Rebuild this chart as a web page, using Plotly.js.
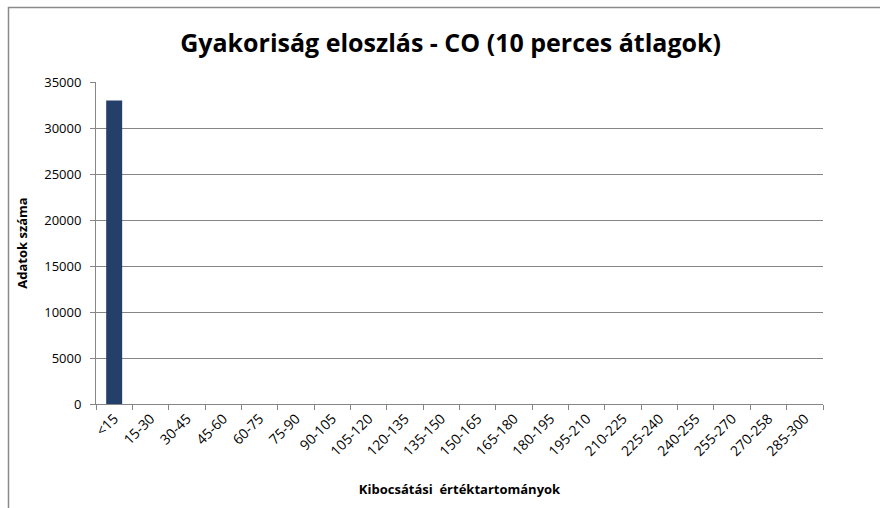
<!DOCTYPE html>
<html>
<head>
<meta charset="utf-8">
<script src="https://cdn.plot.ly/plotly-3.0.1.min.js"></script>
<style>html,body{margin:0;padding:0;background:#fff;}#chart{width:880px;height:508px;}</style>
</head>
<body>
<div id="chart"></div>
<script>
const categories = ["<15","15-30","30-45","45-60","60-75","75-90","90-105","105-120","120-135","135-150","150-165","165-180","180-195","195-210","210-225","225-240","240-255","255-270","270-258","285-300"];
const counts = [33000,0,0,0,0,0,0,0,0,0,0,0,0,0,0,0,0,0,0,0];
const yTicks = [0,5000,10000,15000,20000,25000,30000,35000];

const L = 96, R = 823, T = 82, B = 404;
const W = 880, H = 508;
function px(x){ return (x - L) / (R - L); }
function py(y){ return (B - y) / (B - T); }

const font = "Open Sans, Noto Sans, Liberation Sans, sans-serif";

const trace = {
  type: 'bar',
  x: categories,
  y: counts,
  marker: {color: '#24406a', line: {color: '#16273f', width: 0}},
  width: 0.44,
  hoverinfo: 'x+y'
};

const layout = {
  width: W, height: H,
  margin: {l: L, r: W - R, t: T, b: H - B, pad: 0},
  paper_bgcolor: '#fff', plot_bgcolor: '#fff',
  showlegend: false,
  font: {family: font, color: '#000'},
  title: {text: '<b>Gyakoriság eloszlás - CO (10 perces átlagok)</b>', font: {family: font, size: 25, color: '#000'}, x: 0.512, xanchor: 'center', y: 0.915, yanchor: 'middle'},
  xaxis: {
    type: 'category',
    tickangle: -45,
    tickfont: {family: font, size: 14, color: '#000'},
    ticks: 'outside', ticklen: 5, tickcolor: '#868686', tickson: 'boundaries',
    showline: true, linecolor: '#868686', linewidth: 1,
    showgrid: false, zeroline: false,
    title: {text: '<b>Kibocsátási  értéktartományok</b>', font: {family: font, size: 13, color: '#000'}, standoff: 26}
  },
  yaxis: {
    range: [0, 35000],
    tickvals: yTicks,
    ticktext: yTicks.map(String),
    tickfont: {family: font, size: 13, color: '#000'},
    ticks: 'outside', ticklen: 5, tickcolor: '#868686',
    ticklabelstandoff: 6,
    showline: true, linecolor: '#868686', linewidth: 1,
    showgrid: true, gridcolor: '#868686', gridwidth: 1,
    zeroline: false,
    title: {text: '<b>Adatok száma</b>', font: {family: font, size: 13, color: '#000'}, standoff: 13}
  },
  shapes: [{
    type: 'rect', xref: 'paper', yref: 'paper', layer: 'below',
    x0: px(8.5), x1: px(900), y0: py(530), y1: py(7.5),
    line: {color: '#8a8a8a', width: 1.5}, fillcolor: 'rgba(0,0,0,0)'
  }]
};

Plotly.newPlot('chart', [trace], layout, {displayModeBar: false, staticPlot: true});
</script>
</body>
</html>
